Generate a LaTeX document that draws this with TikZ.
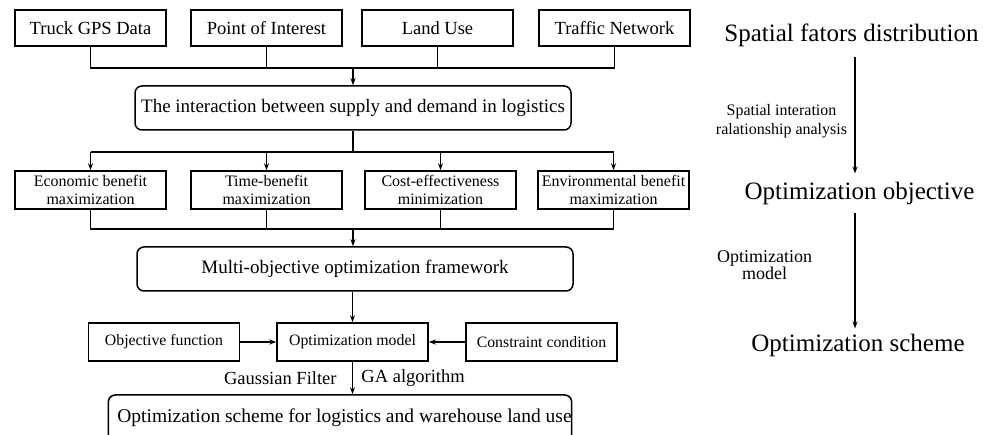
\documentclass[tikz,border=0pt]{standalone}
\usepackage{fontspec}
\setmainfont{Liberation Serif}
\usetikzlibrary{arrows.meta}
\tikzset{
  conn/.style={line width=1.9pt, draw=black},
  arr/.style={conn, -{Stealth[length=7pt,width=5pt]}},
  boxbase/.style={draw=black, line width=1.5pt, rectangle, inner sep=0pt},
  topbox/.style={boxbase, minimum width=151pt, minimum height=36pt, font=\fontsize{18.5}{20}\selectfont},
  rowbox/.style={boxbase, minimum width=151pt, minimum height=38pt, align=center, font=\fontsize{16}{18}\selectfont},
  smallbox/.style={boxbase, minimum width=151pt, minimum height=38pt, font=\fontsize{15.8}{17}\selectfont},
  roundbox/.style={boxbase, rounded corners=7pt, minimum height=44pt, font=\fontsize{19}{21}\selectfont},
  bigtext/.style={font=\fontsize{25}{28}\selectfont, inner xsep=0pt},
  lbl/.style={font=\fontsize{18.5}{20}\selectfont, inner sep=0pt},
}
\begin{document}
\begin{tikzpicture}[x=1pt,y=-1pt]
\useasboundingbox (0,0) rectangle (989,435);
% top row
\node[topbox] (truck) at (90.5,28) {Truck GPS Data};
\node[topbox] (poi) at (266.5,28) {Point of Interest};
\node[topbox] (land) at (437.5,28) {Land Use};
\node[topbox] (traffic) at (614.5,28) {Traffic Network};
\coordinate (bus1) at (353,68);
\node[roundbox, minimum width=436pt] (inter) at (353,108) {The interaction between supply and demand in logistics};
\draw[conn] (truck.south) -- (truck.south |- bus1) -- (traffic.south |- bus1) -- (traffic.south);
\draw[conn] (poi.south) -- (poi.south |- bus1);
\draw[conn] (land.south) -- (land.south |- bus1);
\draw[arr] (bus1) -- (inter.north);
% second row
\node[rowbox] (econ) at (90.5,190) {Economic benefit\\maximization};
\node[rowbox] (time) at (266.5,190) {Time-benefit\\maximization};
\node[rowbox] (cost) at (440.5,190) {Cost-effectiveness\\minimization};
\node[rowbox] (env) at (613.5,190) {Environmental benefit\\maximization};
\coordinate (bus2) at (353,152);
\draw[conn] (inter.south) -- (bus2);
\draw[conn] (econ.north |- bus2) -- (env.north |- bus2);
\draw[arr] (econ.north |- bus2) -- (econ.north);
\draw[arr] (time.north |- bus2) -- (time.north);
\draw[arr] (cost.north |- bus2) -- (cost.north);
\draw[arr] (env.north |- bus2) -- (env.north);
\coordinate (bus3) at (353,229);
\node[roundbox, minimum width=436pt] (multi) at (355,269) {Multi-objective optimization framework};
\draw[conn] (econ.south) -- (econ.south |- bus3) -- (env.south |- bus3) -- (env.south);
\draw[conn] (time.south) -- (time.south |- bus3);
\draw[conn] (cost.south) -- (cost.south |- bus3);
\draw[arr] (bus3) -- (bus3 |- multi.north);
% third row
\node[smallbox] (obj) at (164,342) {Objective function};
\node[smallbox] (model) at (352.5,342) {Optimization model};
\node[smallbox] (cons) at (541.5,342) {Constraint condition};
\draw[arr] (multi.south -| model.north) -- (model.north);
\draw[arr] (obj.east) -- (model.west);
\draw[arr] (cons.west) -- (model.east);
% final
\node[roundbox, minimum width=462pt, minimum height=46pt, font=\fontsize{19.5}{21}\selectfont, text depth=4pt] (final) at (340,418) {\hspace*{9pt}Optimization scheme for logistics and warehouse land use};
\draw[arr] (model.south) -- (model.south |- final.north)
  node[pos=0.5, lbl, anchor=east, xshift=-15pt] {Gaussian Filter}
  node[pos=0.5, lbl, anchor=west, xshift=8pt] {GA algorithm};
% right column
\coordinate (ax) at (855,0);
\node[bigtext, inner ysep=10pt] (sfd) at (851.5,35) {Spatial fators distribution};
\node[bigtext, inner ysep=8pt] (oo) at (859.5,193) {Optimization objective};
\node[bigtext, inner ysep=5pt] (os) at (858,345) {Optimization scheme};
\draw[arr] (sfd.south -| ax) -- (oo.north -| ax)
  node[pos=0.55, anchor=east, xshift=-7pt, align=center, inner sep=0pt, font=\fontsize{16}{19}\selectfont] {Spatial interation\\ralationship analysis};
\draw[arr] (oo.south -| ax) -- (os.north -| ax)
  node[pos=0.45, anchor=east, xshift=-42pt, align=center, inner sep=0pt, font=\fontsize{18}{17}\selectfont] {Optimization\\model};
\end{tikzpicture}
\end{document}
